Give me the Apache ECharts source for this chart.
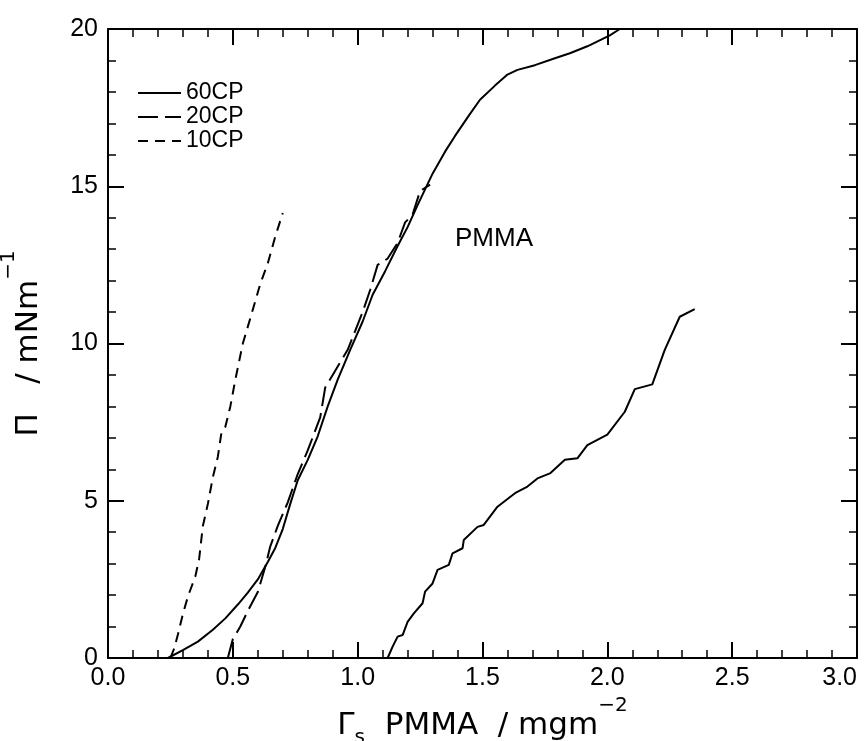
<!DOCTYPE html>
<html><head><meta charset="utf-8">
<script src="https://cdn.jsdelivr.net/npm/echarts@6/dist/echarts.min.js"></script>
<style>html,body{margin:0;padding:0;background:#fff}#c{width:865px;height:741px}</style>
</head><body><div id="c"></div>
<script>
// ---- data ----
const legendNames = ['60CP', '20CP', '10CP'];

const x60a = [0.24,0.30,0.36,0.42,0.47,0.52,0.56,0.60,0.64,0.67,0.70,0.73,0.76,0.80,0.84,0.88,0.92,0.97,1.02,1.06,1.11,1.16,1.20,1.24,1.30,1.35,1.39,1.45,1.49,1.55,1.60,1.64,1.71,1.79,1.85,1.92,2.01,2.05];
const y60a = [0.00,0.25,0.52,0.90,1.26,1.70,2.08,2.50,3.05,3.50,4.10,4.90,5.65,6.30,7.05,8.00,8.85,9.80,10.70,11.55,12.30,13.10,13.70,14.40,15.40,16.10,16.60,17.30,17.75,18.20,18.55,18.70,18.85,19.07,19.23,19.45,19.80,20.00];

const x60b = [1.12,1.14,1.16,1.18,1.20,1.225,1.26,1.27,1.30,1.32,1.365,1.38,1.42,1.425,1.48,1.505,1.56,1.63,1.68,1.72,1.77,1.83,1.88,1.92,2.00,2.07,2.11,2.18,2.23,2.29,2.35];
const y60b = [0.00,0.36,0.68,0.73,1.15,1.42,1.74,2.11,2.37,2.80,2.96,3.33,3.49,3.75,4.17,4.23,4.81,5.24,5.45,5.71,5.87,6.30,6.35,6.77,7.10,7.83,8.55,8.70,9.80,10.85,11.09];

const x20 = [0.48,0.50,0.53,0.56,0.60,0.63,0.65,0.68,0.72,0.76,0.80,0.85,0.87,0.90,0.96,1.02,1.05,1.08,1.12,1.16,1.19,1.22,1.25,1.29];
const y20 = [0.00,0.60,1.00,1.50,2.10,2.90,3.55,4.20,4.95,5.85,6.60,7.65,8.60,9.00,9.80,11.00,11.70,12.50,12.70,13.20,13.85,14.10,14.85,15.05];

const x10 = [0.25,0.265,0.28,0.30,0.32,0.35,0.365,0.38,0.40,0.42,0.44,0.455,0.47,0.49,0.51,0.54,0.57,0.61,0.64,0.67,0.70];
const y10 = [0.00,0.30,0.75,1.40,1.95,2.60,3.15,4.20,4.90,5.75,6.40,7.20,7.35,8.00,8.85,10.00,10.80,11.90,12.55,13.40,14.15];

const xMin = 0, xMax = 3, xStep = 0.5;
const yMin = 0, yMax = 20, yStep = 5;
const annotation = 'PMMA';

// ---- chart ----
const FONT = 'Liberation Sans, Arial, Helvetica, sans-serif';
const TFONT = 'DejaVu Sans, Liberation Sans, sans-serif';
const pair = (xs, ys) => xs.map((x, i) => [x, ys[i]]);

const baseAxis = {
  axisLine: {show: true, onZero: false, lineStyle: {color: '#000', width: 2}},
  axisTick: {show: true, inside: true, length: 16, lineStyle: {color: '#000', width: 2}},
  minorTick: {show: true, splitNumber: 5, length: 8, lineStyle: {color: '#000', width: 1.5}},
  splitLine: {show: false},
  minorSplitLine: {show: false}
};

const titleRich = {
  a: {fontSize: 31, fontFamily: TFONT, color: '#000', lineHeight: 34},
  s: {fontSize: 20, fontFamily: TFONT, color: '#000', lineHeight: 20, padding: [24, 0, 0, 0]},
  p: {fontSize: 20, fontFamily: TFONT, color: '#000', lineHeight: 20, padding: [0, 0, 40, 0]}
};

const chart = echarts.init(document.getElementById('c'), null, {renderer: 'canvas'});
const lineBase = {type: 'line', symbol: 'none', smooth: false, animation: false};

chart.setOption({
  animation: false,
  backgroundColor: '#fff',
  textStyle: {fontFamily: FONT, color: '#000'},
  grid: {left: 108, right: 8, top: 29, bottom: 83, containLabel: false, outerBoundsMode: 'none'},
  legend: {
    orient: 'vertical', left: 137, top: 81, padding: 0,
    itemWidth: 43, itemHeight: 14, itemGap: 0,
    data: legendNames,
    textStyle: {fontFamily: FONT, fontSize: 23, color: '#000', lineHeight: 24},
    itemStyle: {opacity: 0},
    selectedMode: false
  },
  xAxis: [
    Object.assign({}, baseAxis, {
      type: 'value', position: 'bottom', min: xMin, max: xMax, interval: xStep,
      axisLabel: {show: true, margin: 8, fontSize: 25, fontFamily: FONT, color: '#000',
        alignMaxLabel: 'right', formatter: v => v.toFixed(1)},
      name: '{a|Γ}{s|s}{a|  PMMA  / mgm}{p|−2}',
      nameLocation: 'middle', nameGap: 37,
      nameTextStyle: {rich: titleRich}
    }),
    Object.assign({}, baseAxis, {
      type: 'value', position: 'top', min: xMin, max: xMax, interval: xStep,
      axisLabel: {show: false}
    })
  ],
  yAxis: [
    Object.assign({}, baseAxis, {
      type: 'value', position: 'left', min: yMin, max: yMax, interval: yStep,
      axisLabel: {show: true, margin: 10, fontSize: 25, fontFamily: FONT, color: '#000'},
      name: '{a|Π   / mNm}{p|−1}',
      nameLocation: 'middle', nameGap: 41, nameRotate: 90,
      nameTextStyle: {rich: titleRich}
    }),
    Object.assign({}, baseAxis, {
      type: 'value', position: 'right', min: yMin, max: yMax, interval: yStep,
      axisLabel: {show: false}
    })
  ],
  graphic: [{
    type: 'text', left: 455, top: 226,
    style: {text: annotation, font: '26px ' + FONT, fill: '#000'}
  }],
  series: [
    Object.assign({}, lineBase, {name: legendNames[0], data: pair(x60a, y60a),
      lineStyle: {color: '#000', width: 2, type: 'solid'}, itemStyle: {color: '#000'}}),
    Object.assign({}, lineBase, {name: legendNames[1], data: pair(x20, y20),
      lineStyle: {color: '#000', width: 2, type: [20, 7]}, itemStyle: {color: '#000'}}),
    Object.assign({}, lineBase, {name: legendNames[2], data: pair(x10, y10),
      lineStyle: {color: '#000', width: 2, type: [10, 7]}, itemStyle: {color: '#000'}}),
    Object.assign({}, lineBase, {name: legendNames[0], data: pair(x60b, y60b),
      lineStyle: {color: '#000', width: 2, type: 'solid'}, itemStyle: {color: '#000'}})
  ]
});
</script>
</body></html>
